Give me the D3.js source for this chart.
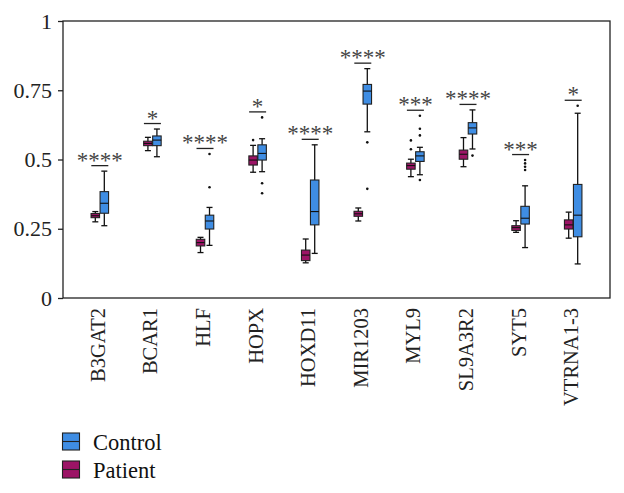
<!DOCTYPE html>
<html><head><meta charset="utf-8">
<script src="https://cdn.jsdelivr.net/npm/d3@7"></script>
<style>body{margin:0;background:#fff}svg{display:block}</style>
</head><body>
<script>
const genes = ["B3GAT2","BCAR1","HLF","HOPX","HOXD11","MIR1203","MYL9","SL9A3R2","SYT5","VTRNA1-3"];
const sig = ["****","*","****","*","****","****","***","****","***","*"];
// [min, q1, median, q3, max]
const patientStats = [
  [0.275,0.290,0.297,0.305,0.312],
  [0.532,0.550,0.558,0.566,0.580],
  [0.164,0.188,0.200,0.212,0.219],
  [0.454,0.480,0.498,0.513,0.551],
  [0.127,0.135,0.155,0.173,0.213],
  [0.278,0.295,0.304,0.313,0.325],
  [0.438,0.465,0.478,0.487,0.501],
  [0.474,0.501,0.519,0.534,0.579],
  [0.237,0.244,0.254,0.261,0.279],
  [0.216,0.249,0.264,0.282,0.310]
];
const controlStats = [
  [0.261,0.306,0.342,0.384,0.458],
  [0.510,0.550,0.570,0.585,0.610],
  [0.190,0.249,0.278,0.299,0.327],
  [0.456,0.498,0.522,0.553,0.575],
  [0.161,0.264,0.312,0.426,0.553],
  [0.600,0.700,0.747,0.771,0.828],
  [0.445,0.493,0.513,0.528,0.544],
  [0.538,0.592,0.614,0.633,0.679],
  [0.182,0.267,0.288,0.331,0.405],
  [0.123,0.221,0.299,0.410,0.667]
];
const patientOutliers = [[],[],[],[0.570],[],[],[0.569,0.537],[],[],[]];
const controlOutliers = [[],[],[0.520,0.400],[0.652,0.414,0.378],[],[0.562,0.394],[0.658,0.611,0.587,0.426],[0.514],[0.498,0.486,0.474,0.462],[0.694]];
const yTicks = [0,0.25,0.5,0.75,1];
const yTickLabels = ["0","0.25","0.5","0.75","1"];
const seriesNames = ["Control","Patient"];
const colors = {Control:"#3f8de3", Patient:"#9c1466"};

const W=624,H=493;
const svg=d3.select("body").append("svg").attr("width",W).attr("height",H);
const font="'Liberation Serif','Times New Roman',serif";
const L=63,R=610,T=21,B=298;
const y=d3.scaleLinear().domain([0,1]).range([B,T]);
const x=d3.scalePoint().domain(genes).range([L,R]).padding(0.7);
const off={Patient:-4.5,Control:4.5};
const bw=8.5;

// frame
svg.append("rect").attr("x",L).attr("y",T).attr("width",R-L).attr("height",B-T)
  .attr("fill","none").attr("stroke","#222").attr("stroke-width",1.3);

// y axis
const yAxis=d3.axisLeft(y).tickValues(yTicks).tickFormat((d,i)=>yTickLabels[i]).tickSize(5).tickPadding(6);
const ga=svg.append("g").attr("transform",`translate(${L},0)`).call(yAxis);
ga.select(".domain").remove();
ga.selectAll("line").attr("stroke","#222").attr("stroke-width",1.3);
ga.selectAll("text").attr("font-family",font).attr("font-size",22).attr("fill","#222");

// x labels
genes.forEach(g=>{
  svg.append("text").attr("transform",`translate(${x(g)+5},${308}) rotate(-90)`)
    .attr("text-anchor","end").attr("font-family",font).attr("font-size",20.5).attr("fill","#222").text(g);
});

function drawBox(cx,s,col){
  const g=svg.append("g");
  g.append("line").attr("x1",cx).attr("x2",cx).attr("y1",y(s[0])).attr("y2",y(s[4])).attr("stroke","#111").attr("stroke-width",1.3);
  [s[0],s[4]].forEach(v=>g.append("line").attr("x1",cx-3).attr("x2",cx+3).attr("y1",y(v)).attr("y2",y(v)).attr("stroke","#111").attr("stroke-width",1.3));
  g.append("rect").attr("x",cx-bw/2).attr("y",y(s[3])).attr("width",bw).attr("height",y(s[1])-y(s[3]))
    .attr("fill",col).attr("stroke","#222").attr("stroke-width",1.1);
  g.append("line").attr("x1",cx-bw/2).attr("x2",cx+bw/2).attr("y1",y(s[2])).attr("y2",y(s[2])).attr("stroke","#111").attr("stroke-width",1.1);
}
genes.forEach((gname,i)=>{
  const c=x(gname);
  drawBox(c+off.Patient,patientStats[i],colors.Patient);
  drawBox(c+off.Control,controlStats[i],colors.Control);
  patientOutliers[i].forEach(v=>svg.append("circle").attr("cx",c+off.Patient).attr("cy",y(v)).attr("r",1.3).attr("fill","#111"));
  controlOutliers[i].forEach(v=>svg.append("circle").attr("cx",c+off.Control).attr("cy",y(v)).attr("r",1.3).attr("fill","#111"));
  const mx=d3.max([patientStats[i][4],controlStats[i][4],...patientOutliers[i],...controlOutliers[i]]);
  const ly=y(mx)-5.5;
  svg.append("line").attr("x1",c-8.5).attr("x2",c+8.5).attr("y1",ly).attr("y2",ly).attr("stroke","#222").attr("stroke-width",1.3);
  svg.append("text").attr("x",c).attr("y",ly+2).attr("text-anchor","middle").attr("font-family",font)
    .attr("font-size",23).attr("fill","#444").text(sig[i]);
});

// legend
seriesNames.forEach((n,i)=>{
  const ly=433+i*28;
  svg.append("rect").attr("x",62.5).attr("y",ly).attr("width",17).attr("height",17).attr("fill",colors[n]).attr("stroke","#222").attr("stroke-width",1.1);
  svg.append("line").attr("x1",62.5).attr("x2",79.5).attr("y1",ly+8.5).attr("y2",ly+8.5).attr("stroke","#222").attr("stroke-width",1.1);
  svg.append("text").attr("x",93).attr("y",ly+16.5).attr("font-family",font).attr("font-size",22.5).attr("fill","#111").text(n);
});
</script>
</body></html>
